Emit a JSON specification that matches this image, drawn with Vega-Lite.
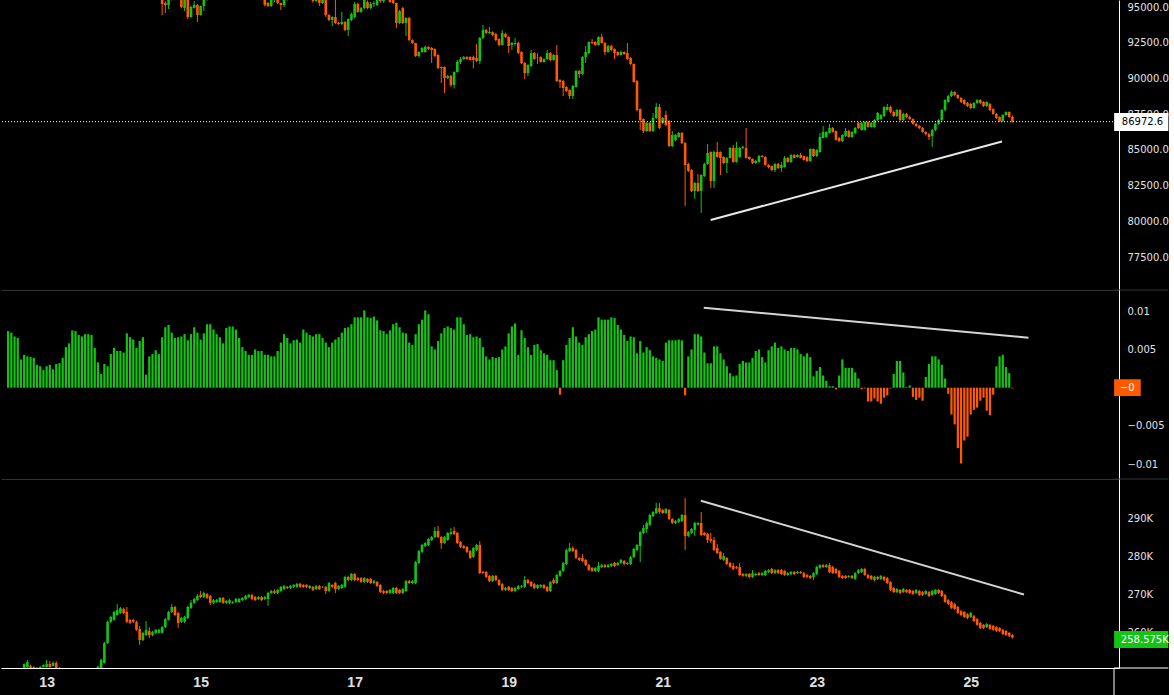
{
"$schema":"https://vega.github.io/schema/vega-lite/v6.json",
"background":"#000000",
"padding":0,
"spacing":0,
"bounds":"flush",
"config":{"view":{"stroke":null},"axis":{"labelFont":"DejaVu Sans","labelFontSize":10,"labelColor":"#e2e2e2","domainColor":"#ffffff","domainWidth":1,"ticks":false,"grid":false,"labelPadding":8}},
"datasets":{"bars":[
{"t":-12,"o":103300,"h":103450,"l":102900,"c":103050,"m":0.0074,"vo":250.2,"vh":250.6,"vl":250.0,"vc":250.4},
{"t":-11,"o":103050,"h":103200,"l":102650,"c":102800,"m":0.0072,"vo":250.4,"vh":250.5,"vl":249.9,"vc":250.1},
{"t":-10,"o":102800,"h":103100,"l":102650,"c":102950,"m":0.0067,"vo":250.1,"vh":250.4,"vl":249.9,"vc":250.3},
{"t":-9,"o":102950,"h":103100,"l":102450,"c":102600,"m":0.0065,"vo":250.3,"vh":250.6,"vl":250.1,"vc":250.5},
{"t":-8,"o":102600,"h":102750,"l":102150,"c":102300,"m":0.0037,"vo":250.5,"vh":250.6,"vl":250.1,"vc":250.3},
{"t":-7,"o":102300,"h":102600,"l":102150,"c":102450,"m":0.0043,"vo":250.6,"vh":251.8,"vl":250.4,"vc":251.6},
{"t":-6,"o":102450,"h":102600,"l":101950,"c":102100,"m":0.0041,"vo":250.8,"vh":252.7,"vl":250.6,"vc":252.1},
{"t":-5,"o":102100,"h":102250,"l":101650,"c":101800,"m":0.0040,"vo":251.1,"vh":251.4,"vl":250.4,"vc":250.6},
{"t":-4,"o":101800,"h":102100,"l":101650,"c":101950,"m":0.0039,"vo":250.8,"vh":251.0,"vl":250.4,"vc":250.6},
{"t":-3,"o":101950,"h":102100,"l":101450,"c":101600,"m":0.0030,"vo":250.6,"vh":250.8,"vl":250.3,"vc":250.5},
{"t":-2,"o":101600,"h":101750,"l":101150,"c":101300,"m":0.0028,"vo":250.5,"vh":251.1,"vl":250.4,"vc":250.8},
{"t":-1,"o":101300,"h":101650,"l":101150,"c":101500,"m":0.0023,"vo":250.8,"vh":251.5,"vl":250.7,"vc":251.3},
{"t":0,"o":101500,"h":101650,"l":100950,"c":101100,"m":0.0028,"vo":250.8,"vh":252.7,"vl":250.7,"vc":251.6},
{"t":1,"o":101100,"h":101250,"l":100550,"c":100700,"m":0.0030,"vo":251.6,"vh":252.4,"vl":250.6,"vc":250.8},
{"t":2,"o":100700,"h":101050,"l":100550,"c":100900,"m":0.0024,"vo":251.1,"vh":252.3,"vl":251.0,"vc":251.9},
{"t":3,"o":100900,"h":101050,"l":100250,"c":100400,"m":0.0031,"vo":251.9,"vh":252.4,"vl":250.4,"vc":250.6},
{"t":4,"o":100400,"h":100550,"l":99850,"c":100000,"m":0.0032,"vo":250.6,"vh":250.8,"vl":250.0,"vc":250.2},
{"t":5,"o":100000,"h":100150,"l":99550,"c":99700,"m":0.0039,"vo":250.2,"vh":250.4,"vl":249.7,"vc":249.9},
{"t":6,"o":99700,"h":100050,"l":99550,"c":99900,"m":0.0053,"vo":249.9,"vh":250.0,"vl":249.4,"vc":249.6},
{"t":7,"o":99900,"h":100050,"l":99250,"c":99400,"m":0.0058,"vo":249.6,"vh":250.0,"vl":249.5,"vc":249.8},
{"t":8,"o":99400,"h":99550,"l":98850,"c":99000,"m":0.0075,"vo":249.8,"vh":249.9,"vl":249.3,"vc":249.5},
{"t":9,"o":99000,"h":99150,"l":98550,"c":98700,"m":0.0074,"vo":249.5,"vh":249.9,"vl":249.4,"vc":249.7},
{"t":10,"o":98700,"h":99050,"l":98550,"c":98900,"m":0.0069,"vo":249.7,"vh":250.1,"vl":249.6,"vc":249.9},
{"t":11,"o":98900,"h":99050,"l":98350,"c":98500,"m":0.0067,"vo":249.9,"vh":250.1,"vl":249.6,"vc":249.8},
{"t":12,"o":98500,"h":98650,"l":98050,"c":98200,"m":0.0070,"vo":249.8,"vh":250.2,"vl":249.7,"vc":250.0},
{"t":13,"o":98200,"h":98550,"l":98050,"c":98400,"m":0.0070,"vo":250.0,"vh":250.4,"vl":249.9,"vc":250.2},
{"t":14,"o":98400,"h":98550,"l":97850,"c":98000,"m":0.0069,"vo":250.2,"vh":250.3,"vl":249.9,"vc":250.1},
{"t":15,"o":98000,"h":98150,"l":97550,"c":97700,"m":0.0052,"vo":250.1,"vh":250.5,"vl":250.0,"vc":250.3},
{"t":16,"o":97700,"h":98050,"l":97550,"c":97900,"m":0.0033,"vo":250.4,"vh":251.1,"vl":250.3,"vc":250.9},
{"t":17,"o":97900,"h":98050,"l":97350,"c":97500,"m":0.0018,"vo":250.6,"vh":253.0,"vl":250.5,"vc":252.7},
{"t":18,"o":97500,"h":97650,"l":97050,"c":97200,"m":0.0031,"vo":251.9,"vh":257.4,"vl":251.7,"vc":257.1},
{"t":19,"o":97200,"h":97550,"l":97050,"c":97400,"m":0.0028,"vo":257.1,"vh":263.0,"vl":256.9,"vc":262.7},
{"t":20,"o":97400,"h":97550,"l":96850,"c":97000,"m":0.0044,"vo":262.7,"vh":264.3,"vl":262.4,"vc":264.0},
{"t":21,"o":97000,"h":97150,"l":96650,"c":96800,"m":0.0052,"vo":263.2,"vh":265.6,"vl":263.0,"vc":265.3},
{"t":22,"o":96800,"h":97150,"l":96650,"c":97000,"m":0.0048,"vo":264.5,"vh":267.4,"vl":264.3,"vc":265.8},
{"t":23,"o":97000,"h":97150,"l":96550,"c":96700,"m":0.0048,"vo":265.0,"vh":266.6,"vl":264.8,"vc":266.3},
{"t":24,"o":96700,"h":96850,"l":96350,"c":96500,"m":0.0046,"vo":266.1,"vh":266.4,"vl":264.7,"vc":265.0},
{"t":25,"o":96500,"h":96850,"l":96350,"c":96700,"m":0.0071,"vo":265.3,"vh":266.6,"vl":262.4,"vc":262.7},
{"t":26,"o":96700,"h":96850,"l":96250,"c":96400,"m":0.0066,"vo":263.2,"vh":263.4,"vl":262.1,"vc":262.4},
{"t":27,"o":96400,"h":96550,"l":96050,"c":96200,"m":0.0063,"vo":263.2,"vh":263.5,"vl":262.4,"vc":262.7},
{"t":28,"o":96200,"h":96550,"l":96050,"c":96400,"m":0.0052,"vo":262.7,"vh":263.0,"vl":260.3,"vc":260.6},
{"t":29,"o":96400,"h":96550,"l":95950,"c":96100,"m":0.0061,"vo":260.8,"vh":261.6,"vl":256.6,"vc":257.9},
{"t":30,"o":96100,"h":96250,"l":95750,"c":95900,"m":0.0066,"vo":257.9,"vh":260.0,"vl":257.6,"vc":259.8},
{"t":31,"o":95900,"h":96250,"l":95750,"c":96100,"m":0.0017,"vo":259.2,"vh":262.9,"vl":259.0,"vc":260.6},
{"t":32,"o":96100,"h":96250,"l":95650,"c":95800,"m":0.0041,"vo":260.3,"vh":261.3,"vl":258.4,"vc":259.2},
{"t":33,"o":95800,"h":96100,"l":95650,"c":95950,"m":0.0044,"vo":259.2,"vh":260.3,"vl":258.9,"vc":260.0},
{"t":34,"o":95950,"h":96100,"l":95550,"c":95700,"m":0.0049,"vo":259.8,"vh":260.8,"vl":259.5,"vc":260.6},
{"t":35,"o":95700,"h":95850,"l":95500,"c":95600,"m":0.0044,"vo":259.8,"vh":260.9,"vl":259.6,"vc":260.6},
{"t":36,"o":95600,"h":95700,"l":94440,"c":95210,"m":0.0066,"vo":259.8,"vh":261.6,"vl":259.6,"vc":261.3},
{"t":37,"o":95280,"h":95400,"l":94580,"c":95140,"m":0.0079,"vo":261.3,"vh":263.7,"vl":261.1,"vc":263.4},
{"t":38,"o":95140,"h":95700,"l":94860,"c":95550,"m":0.0082,"vo":263.2,"vh":265.6,"vl":263.0,"vc":265.3},
{"t":39,"o":95550,"h":96100,"l":95450,"c":95900,"m":0.0072,"vo":265.3,"vh":267.4,"vl":265.0,"vc":266.6},
{"t":40,"o":95900,"h":96300,"l":95700,"c":96100,"m":0.0065,"vo":266.6,"vh":266.9,"vl":264.2,"vc":264.5},
{"t":41,"o":96100,"h":96200,"l":95500,"c":95700,"m":0.0066,"vo":265.0,"vh":265.3,"vl":261.1,"vc":262.4},
{"t":42,"o":95700,"h":95800,"l":94900,"c":95000,"m":0.0067,"vo":262.7,"vh":264.0,"vl":262.4,"vc":263.7},
{"t":43,"o":94930,"h":95600,"l":94720,"c":95500,"m":0.0070,"vo":262.7,"vh":264.3,"vl":262.4,"vc":264.0},
{"t":44,"o":95500,"h":95600,"l":94160,"c":94300,"m":0.0062,"vo":263.7,"vh":266.9,"vl":263.4,"vc":266.6},
{"t":45,"o":94300,"h":95100,"l":94250,"c":95000,"m":0.0070,"vo":266.3,"vh":268.4,"vl":266.1,"vc":267.7},
{"t":46,"o":94930,"h":95420,"l":94900,"c":95140,"m":0.0079,"vo":267.7,"vh":269.0,"vl":267.4,"vc":268.7},
{"t":47,"o":95140,"h":95200,"l":93950,"c":94440,"m":0.0072,"vo":268.4,"vh":270.0,"vl":268.2,"vc":269.5},
{"t":48,"o":94440,"h":95100,"l":94400,"c":95070,"m":0.0063,"vo":269.8,"vh":270.8,"vl":268.9,"vc":269.2},
{"t":49,"o":95070,"h":95800,"l":94720,"c":95600,"m":0.0071,"vo":269.2,"vh":270.6,"vl":269.0,"vc":270.3},
{"t":50,"o":95600,"h":96000,"l":95450,"c":95800,"m":0.0083,"vo":270.0,"vh":270.3,"vl":268.7,"vc":269.0},
{"t":51,"o":95800,"h":96300,"l":95700,"c":96200,"m":0.0083,"vo":269.5,"vh":269.8,"vl":267.1,"vc":267.7},
{"t":52,"o":96200,"h":96550,"l":96050,"c":96400,"m":0.0076,"vo":267.7,"vh":268.7,"vl":267.4,"vc":268.4},
{"t":53,"o":96400,"h":96550,"l":96150,"c":96300,"m":0.0070,"vo":267.9,"vh":268.7,"vl":267.7,"vc":268.4},
{"t":54,"o":96300,"h":96650,"l":96150,"c":96500,"m":0.0066,"vo":267.9,"vh":269.2,"vl":267.7,"vc":269.0},
{"t":55,"o":96500,"h":96650,"l":96250,"c":96400,"m":0.0058,"vo":269.0,"vh":269.2,"vl":267.4,"vc":267.7},
{"t":56,"o":96400,"h":96550,"l":96050,"c":96200,"m":0.0078,"vo":267.7,"vh":268.4,"vl":267.4,"vc":268.2},
{"t":57,"o":96200,"h":96450,"l":96050,"c":96300,"m":0.0080,"vo":267.7,"vh":268.7,"vl":267.4,"vc":268.4},
{"t":58,"o":96300,"h":96450,"l":95950,"c":96100,"m":0.0080,"vo":267.7,"vh":268.2,"vl":267.4,"vc":267.9},
{"t":59,"o":96100,"h":96450,"l":95950,"c":96300,"m":0.0076,"vo":267.9,"vh":269.0,"vl":267.7,"vc":268.7},
{"t":60,"o":96300,"h":96650,"l":96150,"c":96500,"m":0.0065,"vo":267.9,"vh":269.0,"vl":267.7,"vc":268.7},
{"t":61,"o":96500,"h":96650,"l":96250,"c":96400,"m":0.0053,"vo":268.4,"vh":269.2,"vl":268.2,"vc":269.0},
{"t":62,"o":96400,"h":96550,"l":96050,"c":96200,"m":0.0048,"vo":268.7,"vh":269.8,"vl":268.4,"vc":269.5},
{"t":63,"o":96200,"h":96350,"l":95850,"c":96000,"m":0.0043,"vo":269.2,"vh":270.0,"vl":269.0,"vc":269.8},
{"t":64,"o":96000,"h":96250,"l":95850,"c":96100,"m":0.0043,"vo":269.8,"vh":270.0,"vl":268.4,"vc":268.7},
{"t":65,"o":96100,"h":96250,"l":95750,"c":95900,"m":0.0050,"vo":269.2,"vh":269.5,"vl":268.2,"vc":268.4},
{"t":66,"o":95900,"h":96050,"l":95650,"c":95800,"m":0.0048,"vo":268.7,"vh":269.5,"vl":268.4,"vc":269.2},
{"t":67,"o":95800,"h":95950,"l":95550,"c":95650,"m":0.0048,"vo":269.2,"vh":269.5,"vl":268.2,"vc":268.4},
{"t":68,"o":95650,"h":95800,"l":95050,"c":95140,"m":0.0043,"vo":268.7,"vh":269.5,"vl":268.4,"vc":269.2},
{"t":69,"o":95280,"h":95350,"l":95000,"c":95070,"m":0.0043,"vo":268.7,"vh":270.6,"vl":266.9,"vc":270.3},
{"t":70,"o":95070,"h":95650,"l":95000,"c":95500,"m":0.0041,"vo":270.3,"vh":271.1,"vl":270.0,"vc":270.8},
{"t":71,"o":95500,"h":95750,"l":95350,"c":95600,"m":0.0041,"vo":270.8,"vh":271.3,"vl":270.0,"vc":270.3},
{"t":72,"o":95600,"h":95700,"l":95200,"c":95280,"m":0.0048,"vo":270.3,"vh":271.3,"vl":270.0,"vc":271.1},
{"t":73,"o":95280,"h":95300,"l":94790,"c":95140,"m":0.0059,"vo":270.8,"vh":272.1,"vl":270.5,"vc":271.9},
{"t":74,"o":95140,"h":95700,"l":95000,"c":95550,"m":0.0070,"vo":271.3,"vh":272.4,"vl":271.1,"vc":272.1},
{"t":75,"o":95550,"h":95950,"l":95450,"c":95800,"m":0.0065,"vo":271.9,"vh":272.1,"vl":271.3,"vc":271.6},
{"t":76,"o":95800,"h":96150,"l":95700,"c":96000,"m":0.0058,"vo":271.6,"vh":272.4,"vl":271.3,"vc":272.1},
{"t":77,"o":96000,"h":96350,"l":95900,"c":96200,"m":0.0062,"vo":271.9,"vh":272.6,"vl":271.6,"vc":272.4},
{"t":78,"o":96200,"h":96300,"l":96000,"c":96100,"m":0.0063,"vo":271.9,"vh":272.9,"vl":271.6,"vc":272.7},
{"t":79,"o":96100,"h":96450,"l":96000,"c":96300,"m":0.0059,"vo":272.7,"vh":272.9,"vl":271.6,"vc":271.9},
{"t":80,"o":96300,"h":96400,"l":96050,"c":96200,"m":0.0076,"vo":272.4,"vh":272.6,"vl":271.6,"vc":271.9},
{"t":81,"o":96200,"h":96300,"l":95900,"c":96000,"m":0.0072,"vo":272.4,"vh":272.6,"vl":271.6,"vc":271.9},
{"t":82,"o":96000,"h":96100,"l":95600,"c":95700,"m":0.0069,"vo":271.6,"vh":272.4,"vl":271.3,"vc":272.1},
{"t":83,"o":95700,"h":95800,"l":95300,"c":95420,"m":0.0067,"vo":271.9,"vh":272.1,"vl":270.8,"vc":271.1},
{"t":84,"o":95420,"h":95700,"l":95350,"c":95600,"m":0.0070,"vo":271.3,"vh":272.4,"vl":271.1,"vc":272.1},
{"t":85,"o":95550,"h":95600,"l":95070,"c":95280,"m":0.0070,"vo":272.1,"vh":272.4,"vl":271.1,"vc":271.3},
{"t":86,"o":95280,"h":95600,"l":95200,"c":95500,"m":0.0065,"vo":271.8,"vh":272.1,"vl":271.6,"vc":271.9},
{"t":87,"o":95500,"h":95650,"l":94300,"c":94440,"m":0.0059,"vo":271.9,"vh":272.1,"vl":270.0,"vc":270.8},
{"t":88,"o":94440,"h":94500,"l":94000,"c":94090,"m":0.0053,"vo":270.8,"vh":273.2,"vl":270.5,"vc":272.9},
{"t":89,"o":94090,"h":94350,"l":93670,"c":94300,"m":0.0059,"vo":272.4,"vh":272.6,"vl":271.6,"vc":271.9},
{"t":90,"o":94300,"h":95490,"l":93800,"c":93880,"m":0.0063,"vo":272.9,"vh":273.2,"vl":270.3,"vc":271.3},
{"t":91,"o":93880,"h":93950,"l":93750,"c":93810,"m":0.0066,"vo":271.3,"vh":272.4,"vl":271.1,"vc":272.1},
{"t":92,"o":93810,"h":94650,"l":93740,"c":93950,"m":0.0072,"vo":271.6,"vh":272.7,"vl":271.3,"vc":272.4},
{"t":93,"o":93950,"h":94000,"l":93300,"c":93390,"m":0.0078,"vo":271.9,"vh":274.8,"vl":271.6,"vc":274.5},
{"t":94,"o":93390,"h":94200,"l":92970,"c":94160,"m":0.0079,"vo":274.5,"vh":274.8,"vl":273.4,"vc":273.7},
{"t":95,"o":94090,"h":94600,"l":94000,"c":94510,"m":0.0083,"vo":273.7,"vh":275.5,"vl":273.4,"vc":275.3},
{"t":96,"o":94300,"h":95350,"l":94200,"c":95210,"m":0.0092,"vo":275.3,"vh":275.5,"vl":273.4,"vc":273.7},
{"t":97,"o":95210,"h":95300,"l":94600,"c":94650,"m":0.0092,"vo":274.2,"vh":274.5,"vl":273.4,"vc":273.7},
{"t":98,"o":94650,"h":95000,"l":94600,"c":94930,"m":0.0092,"vo":274.2,"vh":274.5,"vl":272.9,"vc":273.2},
{"t":99,"o":94930,"h":95700,"l":94850,"c":95490,"m":0.0101,"vo":273.2,"vh":274.5,"vl":272.9,"vc":274.2},
{"t":100,"o":95350,"h":95450,"l":94850,"c":94930,"m":0.0092,"vo":274.0,"vh":274.2,"vl":272.9,"vc":273.2},
{"t":101,"o":94930,"h":95350,"l":94850,"c":95210,"m":0.0091,"vo":274.0,"vh":274.2,"vl":272.6,"vc":272.9},
{"t":102,"o":95210,"h":95400,"l":95000,"c":95280,"m":0.0093,"vo":272.9,"vh":273.7,"vl":272.6,"vc":273.4},
{"t":103,"o":95140,"h":95700,"l":95070,"c":95500,"m":0.0088,"vo":273.2,"vh":273.4,"vl":271.9,"vc":272.1},
{"t":104,"o":95500,"h":95650,"l":95300,"c":95400,"m":0.0075,"vo":272.4,"vh":272.6,"vl":270.3,"vc":270.5},
{"t":105,"o":95400,"h":95800,"l":95300,"c":95600,"m":0.0074,"vo":270.8,"vh":271.1,"vl":270.0,"vc":270.3},
{"t":106,"o":95600,"h":96000,"l":95500,"c":95800,"m":0.0070,"vo":270.8,"vh":271.1,"vl":270.0,"vc":270.3},
{"t":107,"o":95800,"h":95900,"l":95300,"c":95350,"m":0.0075,"vo":270.3,"vh":271.3,"vl":270.0,"vc":271.1},
{"t":108,"o":95490,"h":95600,"l":95200,"c":95280,"m":0.0083,"vo":270.3,"vh":271.9,"vl":270.0,"vc":271.6},
{"t":109,"o":95280,"h":95300,"l":93530,"c":93880,"m":0.0085,"vo":271.6,"vh":271.9,"vl":270.0,"vc":270.3},
{"t":110,"o":93880,"h":94800,"l":93800,"c":94720,"m":0.0079,"vo":271.1,"vh":271.3,"vl":270.0,"vc":270.3},
{"t":111,"o":94930,"h":95000,"l":93800,"c":93880,"m":0.0072,"vo":270.3,"vh":271.6,"vl":270.0,"vc":271.3},
{"t":112,"o":93880,"h":94300,"l":92970,"c":94230,"m":0.0071,"vo":270.8,"vh":273.7,"vl":270.5,"vc":273.4},
{"t":113,"o":94230,"h":94300,"l":92600,"c":92690,"m":0.0059,"vo":273.4,"vh":273.7,"vl":272.6,"vc":272.9},
{"t":114,"o":92690,"h":92750,"l":92400,"c":92480,"m":0.0056,"vo":272.9,"vh":273.7,"vl":272.6,"vc":273.4},
{"t":115,"o":92480,"h":92500,"l":91500,"c":91570,"m":0.0070,"vo":272.9,"vh":278.7,"vl":272.6,"vc":278.4},
{"t":116,"o":91570,"h":91900,"l":91500,"c":91850,"m":0.0083,"vo":278.2,"vh":281.6,"vl":277.9,"vc":281.3},
{"t":117,"o":91850,"h":92200,"l":91800,"c":92130,"m":0.0089,"vo":281.1,"vh":283.2,"vl":280.8,"vc":282.9},
{"t":118,"o":91850,"h":92300,"l":91800,"c":92200,"m":0.0101,"vo":282.6,"vh":283.7,"vl":282.4,"vc":283.4},
{"t":119,"o":92200,"h":92250,"l":92000,"c":92060,"m":0.0096,"vo":282.9,"vh":284.7,"vl":282.6,"vc":284.5},
{"t":120,"o":92130,"h":92200,"l":91080,"c":91990,"m":0.0054,"vo":284.2,"vh":285.3,"vl":284.0,"vc":285.0},
{"t":121,"o":92060,"h":92100,"l":91500,"c":91570,"m":0.0050,"vo":285.0,"vh":287.6,"vl":284.7,"vc":286.6},
{"t":122,"o":91640,"h":91700,"l":90650,"c":90730,"m":0.0061,"vo":286.6,"vh":287.9,"vl":284.7,"vc":285.0},
{"t":123,"o":90800,"h":90850,"l":89680,"c":90730,"m":0.0071,"vo":285.0,"vh":285.3,"vl":281.9,"vc":283.4},
{"t":124,"o":90800,"h":90850,"l":88980,"c":90030,"m":0.0078,"vo":283.4,"vh":285.3,"vl":283.2,"vc":285.0},
{"t":125,"o":90030,"h":90250,"l":89950,"c":90170,"m":0.0080,"vo":284.2,"vh":286.3,"vl":284.0,"vc":286.1},
{"t":126,"o":90170,"h":90250,"l":89400,"c":89540,"m":0.0078,"vo":285.8,"vh":287.4,"vl":285.5,"vc":286.3},
{"t":127,"o":89540,"h":90500,"l":89300,"c":90450,"m":0.0076,"vo":286.6,"vh":287.6,"vl":285.5,"vc":285.8},
{"t":128,"o":90450,"h":91300,"l":90400,"c":91150,"m":0.0092,"vo":286.1,"vh":286.3,"vl":283.2,"vc":283.4},
{"t":129,"o":91150,"h":91500,"l":91000,"c":91360,"m":0.0092,"vo":283.7,"vh":283.9,"vl":282.1,"vc":282.4},
{"t":130,"o":91360,"h":91560,"l":91300,"c":91500,"m":0.0083,"vo":282.6,"vh":282.9,"vl":281.9,"vc":282.1},
{"t":131,"o":91500,"h":91560,"l":91300,"c":91360,"m":0.0069,"vo":282.4,"vh":282.6,"vl":280.8,"vc":281.1},
{"t":132,"o":91500,"h":91560,"l":91250,"c":91290,"m":0.0070,"vo":281.3,"vh":281.6,"vl":279.2,"vc":279.5},
{"t":133,"o":91500,"h":91600,"l":90700,"c":91290,"m":0.0066,"vo":279.8,"vh":282.4,"vl":279.5,"vc":282.1},
{"t":134,"o":91430,"h":92410,"l":91150,"c":91220,"m":0.0067,"vo":281.6,"vh":283.2,"vl":281.3,"vc":282.9},
{"t":135,"o":91220,"h":92900,"l":91000,"c":92830,"m":0.0065,"vo":282.9,"vh":283.9,"vl":275.3,"vc":275.5},
{"t":136,"o":92830,"h":93740,"l":92750,"c":93390,"m":0.0053,"vo":275.8,"vh":276.1,"vl":275.3,"vc":275.5},
{"t":137,"o":93390,"h":93450,"l":93100,"c":93180,"m":0.0041,"vo":275.8,"vh":276.1,"vl":274.2,"vc":274.5},
{"t":138,"o":93180,"h":93600,"l":93100,"c":93250,"m":0.0037,"vo":274.8,"vh":275.0,"vl":273.2,"vc":273.4},
{"t":139,"o":93250,"h":93300,"l":92950,"c":93040,"m":0.0040,"vo":273.4,"vh":275.0,"vl":273.2,"vc":274.8},
{"t":140,"o":93110,"h":93200,"l":92600,"c":92690,"m":0.0039,"vo":274.8,"vh":275.0,"vl":273.4,"vc":273.7},
{"t":141,"o":92760,"h":92800,"l":92250,"c":92340,"m":0.0040,"vo":273.7,"vh":273.9,"vl":272.1,"vc":272.4},
{"t":142,"o":92340,"h":93390,"l":92300,"c":93180,"m":0.0050,"vo":272.6,"vh":272.9,"vl":270.8,"vc":271.1},
{"t":143,"o":93110,"h":93200,"l":92850,"c":92900,"m":0.0054,"vo":271.1,"vh":271.9,"vl":270.8,"vc":271.6},
{"t":144,"o":92900,"h":92950,"l":91780,"c":92270,"m":0.0071,"vo":271.9,"vh":272.1,"vl":270.8,"vc":271.1},
{"t":145,"o":92340,"h":92550,"l":92000,"c":92480,"m":0.0080,"vo":271.6,"vh":271.9,"vl":270.5,"vc":270.8},
{"t":146,"o":92410,"h":92830,"l":92300,"c":92480,"m":0.0084,"vo":270.8,"vh":271.9,"vl":270.5,"vc":271.6},
{"t":147,"o":92480,"h":92550,"l":91700,"c":91780,"m":0.0043,"vo":271.3,"vh":272.4,"vl":271.1,"vc":272.1},
{"t":148,"o":91850,"h":91900,"l":91000,"c":91080,"m":0.0075,"vo":271.9,"vh":272.4,"vl":271.6,"vc":272.1},
{"t":149,"o":91080,"h":91150,"l":89960,"c":90380,"m":0.0065,"vo":271.9,"vh":274.7,"vl":271.6,"vc":273.7},
{"t":150,"o":90380,"h":91000,"l":90170,"c":90940,"m":0.0053,"vo":273.7,"vh":274.0,"vl":272.6,"vc":272.9},
{"t":151,"o":90870,"h":91990,"l":90800,"c":91780,"m":0.0043,"vo":273.2,"vh":273.4,"vl":271.9,"vc":272.1},
{"t":152,"o":91780,"h":91850,"l":91300,"c":91360,"m":0.0056,"vo":272.6,"vh":272.9,"vl":271.3,"vc":271.6},
{"t":153,"o":91430,"h":91780,"l":91010,"c":91460,"m":0.0057,"vo":271.6,"vh":272.6,"vl":271.3,"vc":272.4},
{"t":154,"o":91500,"h":91550,"l":91100,"c":91150,"m":0.0049,"vo":271.9,"vh":272.6,"vl":271.6,"vc":272.4},
{"t":155,"o":91150,"h":91400,"l":91100,"c":91360,"m":0.0045,"vo":272.4,"vh":272.6,"vl":271.3,"vc":271.6},
{"t":156,"o":91360,"h":91990,"l":91300,"c":91780,"m":0.0043,"vo":271.9,"vh":272.1,"vl":270.5,"vc":270.8},
{"t":157,"o":91780,"h":91850,"l":91200,"c":91290,"m":0.0036,"vo":270.8,"vh":273.4,"vl":270.5,"vc":273.2},
{"t":158,"o":91290,"h":91700,"l":91250,"c":91640,"m":0.0036,"vo":273.7,"vh":274.2,"vl":272.6,"vc":272.9},
{"t":159,"o":91640,"h":92340,"l":89750,"c":89820,"m":0.0023,"vo":272.9,"vh":275.3,"vl":272.6,"vc":275.0},
{"t":160,"o":89890,"h":89950,"l":89330,"c":89750,"m":-0.0009,"vo":274.8,"vh":276.3,"vl":274.5,"vc":276.1},
{"t":161,"o":89820,"h":89900,"l":88770,"c":89330,"m":0.0036,"vo":276.1,"vh":278.4,"vl":275.8,"vc":278.2},
{"t":162,"o":89400,"h":89450,"l":89050,"c":89120,"m":0.0056,"vo":277.9,"vh":281.9,"vl":277.6,"vc":281.6},
{"t":163,"o":89190,"h":89250,"l":88560,"c":88770,"m":0.0065,"vo":281.3,"vh":283.4,"vl":281.1,"vc":282.1},
{"t":164,"o":88770,"h":89550,"l":88560,"c":89470,"m":0.0079,"vo":282.1,"vh":282.6,"vl":281.1,"vc":281.3},
{"t":165,"o":89400,"h":90600,"l":89350,"c":90520,"m":0.0067,"vo":281.6,"vh":281.9,"vl":279.2,"vc":279.5},
{"t":166,"o":90520,"h":90600,"l":90030,"c":90310,"m":0.0059,"vo":279.5,"vh":279.7,"vl":278.7,"vc":279.0},
{"t":167,"o":90310,"h":91560,"l":90250,"c":91500,"m":0.0056,"vo":279.5,"vh":280.5,"vl":278.4,"vc":278.7},
{"t":168,"o":91500,"h":92270,"l":91080,"c":91850,"m":0.0066,"vo":279.0,"vh":279.2,"vl":277.4,"vc":277.6},
{"t":169,"o":91780,"h":92600,"l":91700,"c":92550,"m":0.0070,"vo":277.6,"vh":277.9,"vl":276.1,"vc":276.3},
{"t":170,"o":92550,"h":92760,"l":92400,"c":92480,"m":0.0074,"vo":276.9,"vh":277.1,"vl":275.8,"vc":276.1},
{"t":171,"o":92550,"h":92600,"l":92300,"c":92340,"m":0.0076,"vo":276.1,"vh":277.1,"vl":275.8,"vc":276.9},
{"t":172,"o":92340,"h":92950,"l":92300,"c":92900,"m":0.0092,"vo":276.1,"vh":278.4,"vl":275.8,"vc":277.4},
{"t":173,"o":92900,"h":93110,"l":92450,"c":92480,"m":0.0089,"vo":277.1,"vh":277.9,"vl":276.9,"vc":277.6},
{"t":174,"o":92480,"h":92550,"l":91640,"c":91850,"m":0.0089,"vo":277.6,"vh":277.9,"vl":276.9,"vc":277.1},
{"t":175,"o":91850,"h":92350,"l":91800,"c":92270,"m":0.0089,"vo":277.1,"vh":277.9,"vl":276.9,"vc":277.6},
{"t":176,"o":92270,"h":92350,"l":91900,"c":91990,"m":0.0092,"vo":277.4,"vh":278.2,"vl":277.1,"vc":277.9},
{"t":177,"o":92060,"h":92100,"l":91360,"c":91780,"m":0.0091,"vo":278.2,"vh":278.4,"vl":277.1,"vc":277.4},
{"t":178,"o":91850,"h":91900,"l":91550,"c":91640,"m":0.0082,"vo":277.6,"vh":278.4,"vl":277.4,"vc":278.2},
{"t":179,"o":91640,"h":91950,"l":91600,"c":91850,"m":0.0076,"vo":278.2,"vh":279.2,"vl":277.9,"vc":279.0},
{"t":180,"o":91850,"h":91900,"l":91650,"c":91710,"m":0.0069,"vo":278.7,"vh":279.0,"vl":277.6,"vc":277.9},
{"t":181,"o":91780,"h":92480,"l":91300,"c":91360,"m":0.0061,"vo":277.9,"vh":278.4,"vl":277.6,"vc":278.2},
{"t":182,"o":91430,"h":91500,"l":90950,"c":91010,"m":0.0067,"vo":277.9,"vh":280.0,"vl":277.6,"vc":279.7},
{"t":183,"o":91010,"h":91050,"l":89700,"c":89750,"m":0.0066,"vo":279.7,"vh":282.1,"vl":279.5,"vc":281.9},
{"t":184,"o":89820,"h":89900,"l":87700,"c":87790,"m":0.0045,"vo":281.6,"vh":283.2,"vl":281.3,"vc":282.9},
{"t":185,"o":87860,"h":87900,"l":86390,"c":87090,"m":0.0061,"vo":282.6,"vh":286.6,"vl":278.4,"vc":286.3},
{"t":186,"o":87160,"h":87200,"l":86180,"c":86320,"m":0.0046,"vo":286.1,"vh":288.2,"vl":285.8,"vc":287.4},
{"t":187,"o":86320,"h":86950,"l":86250,"c":86880,"m":0.0053,"vo":287.1,"vh":289.0,"vl":286.1,"vc":288.7},
{"t":188,"o":86880,"h":86950,"l":86250,"c":86320,"m":0.0049,"vo":288.2,"vh":291.1,"vl":287.9,"vc":290.8},
{"t":189,"o":86320,"h":87580,"l":86250,"c":87230,"m":0.0041,"vo":290.5,"vh":291.8,"vl":290.3,"vc":291.6},
{"t":190,"o":87230,"h":88280,"l":87150,"c":88000,"m":0.0039,"vo":291.3,"vh":294.0,"vl":291.1,"vc":292.6},
{"t":191,"o":88000,"h":88210,"l":86450,"c":86530,"m":0.0037,"vo":292.6,"vh":294.0,"vl":291.1,"vc":291.6},
{"t":192,"o":86880,"h":87300,"l":86800,"c":87230,"m":0.0035,"vo":292.1,"vh":292.4,"vl":291.1,"vc":291.3},
{"t":193,"o":87440,"h":87720,"l":86650,"c":86740,"m":0.0059,"vo":291.3,"vh":292.6,"vl":291.1,"vc":292.4},
{"t":194,"o":87020,"h":87100,"l":85200,"c":85270,"m":0.0062,"vo":292.1,"vh":292.4,"vl":289.5,"vc":289.7},
{"t":195,"o":85270,"h":86320,"l":85200,"c":86040,"m":0.0062,"vo":289.7,"vh":290.0,"vl":288.4,"vc":288.7},
{"t":196,"o":85690,"h":86100,"l":85600,"c":86040,"m":0.0062,"vo":288.7,"vh":289.5,"vl":288.4,"vc":289.2},
{"t":197,"o":85900,"h":86250,"l":85850,"c":86180,"m":0.0063,"vo":289.0,"vh":290.0,"vl":288.7,"vc":289.7},
{"t":198,"o":86180,"h":86250,"l":85400,"c":85480,"m":0.0062,"vo":289.2,"vh":291.1,"vl":288.9,"vc":290.8},
{"t":199,"o":85480,"h":85550,"l":81070,"c":83940,"m":-0.0010,"vo":290.8,"vh":295.3,"vl":281.6,"vc":285.3},
{"t":200,"o":84010,"h":84100,"l":83450,"c":83520,"m":0.0041,"vo":285.3,"vh":286.6,"vl":285.0,"vc":286.3},
{"t":201,"o":83590,"h":83650,"l":82050,"c":82120,"m":0.0050,"vo":286.1,"vh":287.4,"vl":285.8,"vc":287.1},
{"t":202,"o":82120,"h":82750,"l":81560,"c":82680,"m":0.0070,"vo":286.9,"vh":289.0,"vl":285.3,"vc":288.7},
{"t":203,"o":82680,"h":83310,"l":82050,"c":82120,"m":0.0070,"vo":288.2,"vh":289.0,"vl":288.0,"vc":288.7},
{"t":204,"o":82120,"h":83300,"l":80580,"c":83240,"m":0.0067,"vo":288.7,"vh":291.6,"vl":285.3,"vc":285.5},
{"t":205,"o":83170,"h":84100,"l":83100,"c":84010,"m":0.0046,"vo":286.1,"vh":286.3,"vl":285.3,"vc":285.5},
{"t":206,"o":84010,"h":85410,"l":83950,"c":84780,"m":0.0032,"vo":285.8,"vh":286.1,"vl":283.4,"vc":284.2},
{"t":207,"o":84850,"h":84900,"l":82330,"c":82820,"m":0.0032,"vo":284.5,"vh":286.1,"vl":283.4,"vc":284.0},
{"t":208,"o":82820,"h":84950,"l":82330,"c":84850,"m":0.0054,"vo":284.2,"vh":285.0,"vl":281.3,"vc":281.6},
{"t":209,"o":84850,"h":85550,"l":84450,"c":84500,"m":0.0054,"vo":282.1,"vh":283.2,"vl":280.5,"vc":280.8},
{"t":210,"o":84850,"h":84900,"l":83240,"c":84430,"m":0.0045,"vo":281.1,"vh":281.3,"vl":279.0,"vc":279.2},
{"t":211,"o":84500,"h":84550,"l":84000,"c":84080,"m":0.0037,"vo":279.0,"vh":280.8,"vl":278.7,"vc":280.0},
{"t":212,"o":84080,"h":84500,"l":83380,"c":84430,"m":0.0028,"vo":279.5,"vh":279.7,"vl":277.6,"vc":277.9},
{"t":213,"o":84430,"h":85200,"l":84400,"c":85130,"m":0.0019,"vo":278.2,"vh":278.4,"vl":276.9,"vc":277.1},
{"t":214,"o":85130,"h":85340,"l":84100,"c":84150,"m":0.0015,"vo":277.4,"vh":278.2,"vl":276.3,"vc":276.6},
{"t":215,"o":84150,"h":85550,"l":84100,"c":85130,"m":0.0016,"vo":277.1,"vh":277.4,"vl":276.6,"vc":276.9},
{"t":216,"o":84500,"h":85200,"l":84450,"c":85130,"m":0.0031,"vo":277.1,"vh":278.2,"vl":274.8,"vc":275.0},
{"t":217,"o":85130,"h":85300,"l":85050,"c":85200,"m":0.0035,"vo":275.3,"vh":275.5,"vl":274.5,"vc":274.8},
{"t":218,"o":85130,"h":86530,"l":84400,"c":84430,"m":0.0033,"vo":274.8,"vh":275.5,"vl":274.5,"vc":275.3},
{"t":219,"o":84500,"h":84550,"l":84300,"c":84360,"m":0.0033,"vo":275.3,"vh":275.5,"vl":274.2,"vc":274.5},
{"t":220,"o":84360,"h":84400,"l":84000,"c":84080,"m":0.0039,"vo":274.5,"vh":276.3,"vl":274.2,"vc":275.5},
{"t":221,"o":84080,"h":84300,"l":84000,"c":84220,"m":0.0048,"vo":275.0,"vh":275.5,"vl":274.8,"vc":275.3},
{"t":222,"o":84150,"h":84650,"l":84100,"c":84570,"m":0.0050,"vo":275.5,"vh":275.8,"vl":274.8,"vc":275.0},
{"t":223,"o":84570,"h":84650,"l":84450,"c":84500,"m":0.0040,"vo":275.0,"vh":275.8,"vl":274.8,"vc":275.5},
{"t":224,"o":84500,"h":84550,"l":83900,"c":83940,"m":0.0033,"vo":275.0,"vh":276.3,"vl":274.8,"vc":276.1},
{"t":225,"o":83940,"h":84000,"l":83700,"c":83800,"m":0.0049,"vo":275.8,"vh":276.6,"vl":275.5,"vc":276.3},
{"t":226,"o":83870,"h":83900,"l":83500,"c":83590,"m":0.0054,"vo":276.6,"vh":276.9,"vl":275.3,"vc":275.5},
{"t":227,"o":83590,"h":84100,"l":83450,"c":84010,"m":0.0059,"vo":275.5,"vh":276.6,"vl":275.3,"vc":276.3},
{"t":228,"o":84010,"h":84100,"l":83650,"c":83730,"m":0.0052,"vo":276.3,"vh":276.6,"vl":275.3,"vc":275.5},
{"t":229,"o":83730,"h":84150,"l":83450,"c":83940,"m":0.0054,"vo":276.3,"vh":276.6,"vl":275.0,"vc":275.3},
{"t":230,"o":83800,"h":84570,"l":83750,"c":84430,"m":0.0050,"vo":276.1,"vh":276.3,"vl":274.8,"vc":275.0},
{"t":231,"o":84430,"h":84500,"l":84100,"c":84150,"m":0.0048,"vo":275.0,"vh":275.8,"vl":274.8,"vc":275.5},
{"t":232,"o":84150,"h":84700,"l":84100,"c":84640,"m":0.0052,"vo":275.3,"vh":276.1,"vl":275.0,"vc":275.8},
{"t":233,"o":84640,"h":84700,"l":84400,"c":84430,"m":0.0052,"vo":275.8,"vh":276.1,"vl":275.0,"vc":275.3},
{"t":234,"o":84500,"h":84700,"l":84450,"c":84640,"m":0.0050,"vo":275.5,"vh":276.1,"vl":275.3,"vc":275.8},
{"t":235,"o":84640,"h":84780,"l":84400,"c":84430,"m":0.0044,"vo":275.8,"vh":276.1,"vl":275.3,"vc":275.5},
{"t":236,"o":84570,"h":84600,"l":84250,"c":84290,"m":0.0041,"vo":275.5,"vh":275.8,"vl":274.2,"vc":274.5},
{"t":237,"o":84500,"h":84550,"l":84150,"c":84220,"m":0.0045,"vo":275.0,"vh":275.3,"vl":274.2,"vc":274.5},
{"t":238,"o":84220,"h":85100,"l":84150,"c":85060,"m":0.0040,"vo":274.8,"vh":275.0,"vl":274.0,"vc":274.2},
{"t":239,"o":85060,"h":85100,"l":84500,"c":84570,"m":0.0015,"vo":274.5,"vh":275.8,"vl":273.7,"vc":275.5},
{"t":240,"o":84570,"h":85050,"l":84500,"c":84990,"m":0.0022,"vo":275.3,"vh":277.4,"vl":275.0,"vc":277.1},
{"t":241,"o":84850,"h":86180,"l":84800,"c":85900,"m":0.0027,"vo":276.9,"vh":277.9,"vl":276.6,"vc":277.6},
{"t":242,"o":85830,"h":86670,"l":85800,"c":86250,"m":0.0016,"vo":277.6,"vh":277.9,"vl":276.9,"vc":277.1},
{"t":243,"o":85900,"h":86300,"l":85850,"c":86250,"m":0.0009,"vo":277.1,"vh":277.9,"vl":276.9,"vc":277.6},
{"t":244,"o":86180,"h":86810,"l":86150,"c":86530,"m":0.0002,"vo":277.6,"vh":278.2,"vl":275.5,"vc":275.8},
{"t":245,"o":86530,"h":86600,"l":86200,"c":86250,"m":0.0002,"vo":277.1,"vh":277.4,"vl":275.3,"vc":275.5},
{"t":246,"o":86320,"h":86350,"l":85650,"c":85690,"m":-0.0002,"vo":276.6,"vh":276.9,"vl":275.3,"vc":275.5},
{"t":247,"o":85830,"h":85900,"l":85550,"c":85620,"m":0.0016,"vo":276.1,"vh":276.3,"vl":274.2,"vc":274.5},
{"t":248,"o":85620,"h":86100,"l":85550,"c":86040,"m":0.0037,"vo":274.8,"vh":275.0,"vl":274.0,"vc":274.2},
{"t":249,"o":85970,"h":86530,"l":85900,"c":86320,"m":0.0026,"vo":274.8,"vh":275.0,"vl":274.0,"vc":274.2},
{"t":250,"o":86320,"h":86400,"l":85850,"c":85900,"m":0.0026,"vo":274.5,"vh":275.0,"vl":274.2,"vc":274.8},
{"t":251,"o":85900,"h":86300,"l":85850,"c":86250,"m":0.0026,"vo":274.8,"vh":275.0,"vl":274.0,"vc":274.2},
{"t":252,"o":86180,"h":86600,"l":86100,"c":86530,"m":0.0020,"vo":274.0,"vh":275.8,"vl":273.7,"vc":275.5},
{"t":253,"o":86880,"h":86950,"l":86450,"c":86530,"m":0.0012,"vo":275.5,"vh":276.6,"vl":275.3,"vc":276.3},
{"t":254,"o":86390,"h":86950,"l":86350,"c":86880,"m":-0.0002,"vo":275.8,"vh":276.9,"vl":275.5,"vc":276.6},
{"t":255,"o":86390,"h":87000,"l":86350,"c":86950,"m":-0.0001,"vo":276.6,"vh":276.9,"vl":274.8,"vc":275.0},
{"t":256,"o":86950,"h":87000,"l":86550,"c":86600,"m":-0.0018,"vo":275.0,"vh":275.3,"vl":274.0,"vc":274.2},
{"t":257,"o":86600,"h":86950,"l":86550,"c":86880,"m":-0.0018,"vo":274.8,"vh":275.0,"vl":273.7,"vc":274.0},
{"t":258,"o":86600,"h":87150,"l":86550,"c":87090,"m":-0.0014,"vo":273.7,"vh":274.8,"vl":273.4,"vc":274.5},
{"t":259,"o":87090,"h":87650,"l":87000,"c":87580,"m":-0.0018,"vo":274.5,"vh":274.8,"vl":273.7,"vc":274.0},
{"t":260,"o":87160,"h":87500,"l":87100,"c":87440,"m":-0.0021,"vo":274.0,"vh":275.0,"vl":273.7,"vc":274.8},
{"t":261,"o":87370,"h":88050,"l":87300,"c":88000,"m":-0.0013,"vo":274.5,"vh":274.8,"vl":273.4,"vc":273.7},
{"t":262,"o":87790,"h":88210,"l":87750,"c":88000,"m":-0.0010,"vo":274.2,"vh":274.5,"vl":272.6,"vc":272.9},
{"t":263,"o":88000,"h":88100,"l":87550,"c":87650,"m":-0.0001,"vo":273.2,"vh":273.4,"vl":270.8,"vc":271.1},
{"t":264,"o":87650,"h":87750,"l":87300,"c":87370,"m":0.0018,"vo":271.6,"vh":271.9,"vl":270.3,"vc":270.5},
{"t":265,"o":87370,"h":87850,"l":87300,"c":87790,"m":0.0035,"vo":270.5,"vh":271.6,"vl":270.3,"vc":271.3},
{"t":266,"o":87790,"h":87850,"l":87000,"c":87090,"m":0.0035,"vo":271.1,"vh":271.3,"vl":270.0,"vc":270.3},
{"t":267,"o":87090,"h":87600,"l":87000,"c":87510,"m":0.0020,"vo":270.5,"vh":271.6,"vl":270.3,"vc":271.3},
{"t":268,"o":87510,"h":87600,"l":87200,"c":87300,"m":0.0001,"vo":271.1,"vh":271.3,"vl":270.3,"vc":270.5},
{"t":269,"o":87300,"h":87400,"l":87100,"c":87160,"m":0.0003,"vo":271.1,"vh":271.3,"vl":270.0,"vc":270.3},
{"t":270,"o":87160,"h":87200,"l":86750,"c":86810,"m":-0.0012,"vo":270.8,"vh":271.1,"vl":269.8,"vc":270.0},
{"t":271,"o":86810,"h":86900,"l":86600,"c":86670,"m":-0.0016,"vo":270.3,"vh":271.3,"vl":270.0,"vc":271.1},
{"t":272,"o":86670,"h":86750,"l":86450,"c":86530,"m":-0.0013,"vo":270.8,"vh":271.1,"vl":269.5,"vc":269.8},
{"t":273,"o":86530,"h":86600,"l":86200,"c":86250,"m":-0.0017,"vo":270.5,"vh":270.8,"vl":269.5,"vc":269.8},
{"t":274,"o":86250,"h":86300,"l":86000,"c":86100,"m":0.0014,"vo":270.0,"vh":271.1,"vl":269.8,"vc":270.8},
{"t":275,"o":86100,"h":86200,"l":85690,"c":85900,"m":0.0031,"vo":270.5,"vh":270.8,"vl":269.2,"vc":269.5},
{"t":276,"o":85970,"h":86450,"l":85200,"c":86390,"m":0.0041,"vo":269.8,"vh":271.1,"vl":269.5,"vc":270.8},
{"t":277,"o":86390,"h":86900,"l":86300,"c":86810,"m":0.0041,"vo":270.0,"vh":271.3,"vl":269.8,"vc":271.1},
{"t":278,"o":86810,"h":87150,"l":86750,"c":87090,"m":0.0037,"vo":271.1,"vh":271.3,"vl":270.0,"vc":270.3},
{"t":279,"o":87090,"h":87850,"l":87000,"c":87790,"m":0.0030,"vo":270.8,"vh":271.1,"vl":269.2,"vc":269.5},
{"t":280,"o":87790,"h":88550,"l":87700,"c":88490,"m":0.0012,"vo":269.8,"vh":270.0,"vl":267.7,"vc":267.9},
{"t":281,"o":88350,"h":88850,"l":88300,"c":88770,"m":-0.0008,"vo":268.4,"vh":268.7,"vl":267.1,"vc":267.4},
{"t":282,"o":88770,"h":89150,"l":88700,"c":89050,"m":-0.0035,"vo":267.9,"vh":268.2,"vl":266.1,"vc":266.3},
{"t":283,"o":89050,"h":89100,"l":88750,"c":88840,"m":-0.0048,"vo":267.4,"vh":267.7,"vl":265.8,"vc":266.1},
{"t":284,"o":88840,"h":88900,"l":88550,"c":88630,"m":-0.0079,"vo":266.6,"vh":266.9,"vl":264.8,"vc":265.0},
{"t":285,"o":88630,"h":88700,"l":88280,"c":88350,"m":-0.0099,"vo":265.5,"vh":265.8,"vl":264.2,"vc":264.5},
{"t":286,"o":88490,"h":88550,"l":88150,"c":88210,"m":-0.0069,"vo":265.3,"vh":265.5,"vl":263.7,"vc":264.0},
{"t":287,"o":88280,"h":88350,"l":88000,"c":88070,"m":-0.0064,"vo":264.7,"vh":265.0,"vl":263.4,"vc":263.7},
{"t":288,"o":88210,"h":88300,"l":87850,"c":87930,"m":-0.0035,"vo":264.0,"vh":265.3,"vl":263.7,"vc":265.0},
{"t":289,"o":87930,"h":88350,"l":87880,"c":88280,"m":-0.0029,"vo":264.2,"vh":264.5,"vl":262.6,"vc":262.9},
{"t":290,"o":88280,"h":88550,"l":88200,"c":88490,"m":-0.0026,"vo":263.4,"vh":263.7,"vl":261.6,"vc":261.9},
{"t":291,"o":88490,"h":88550,"l":88200,"c":88280,"m":-0.0017,"vo":262.4,"vh":262.6,"vl":260.8,"vc":261.1},
{"t":292,"o":88350,"h":88400,"l":88000,"c":88070,"m":-0.0013,"vo":261.9,"vh":262.1,"vl":260.8,"vc":261.1},
{"t":293,"o":88070,"h":88400,"l":88000,"c":88350,"m":-0.0030,"vo":261.3,"vh":262.4,"vl":261.1,"vc":262.1},
{"t":294,"o":88210,"h":88280,"l":87700,"c":87790,"m":-0.0036,"vo":261.9,"vh":262.1,"vl":260.6,"vc":260.8},
{"t":295,"o":87860,"h":87900,"l":87450,"c":87510,"m":-0.0009,"vo":261.6,"vh":261.9,"vl":260.3,"vc":260.6},
{"t":296,"o":87510,"h":87580,"l":87150,"c":87230,"m":0.0028,"vo":261.3,"vh":261.6,"vl":260.0,"vc":260.3},
{"t":297,"o":87300,"h":87350,"l":86950,"c":87020,"m":0.0041,"vo":261.1,"vh":261.3,"vl":260.0,"vc":260.3},
{"t":298,"o":87020,"h":87500,"l":86950,"c":87440,"m":0.0043,"vo":260.6,"vh":260.8,"vl":259.2,"vc":259.5},
{"t":299,"o":87440,"h":87700,"l":87380,"c":87650,"m":0.0027,"vo":260.3,"vh":260.6,"vl":259.0,"vc":259.2},
{"t":300,"o":87650,"h":87700,"l":87250,"c":87300,"m":0.0019,"vo":259.8,"vh":260.0,"vl":258.7,"vc":259.0},
{"t":301,"o":87300,"h":87400,"l":86900,"c":86972.6,"m":-0.0001,"vo":259.2,"vh":259.5,"vl":258.3,"vc":258.575}
]},
"vconcat":[
{"width":1118,"height":290,"layer":[
{"data":{"name":"bars"},"mark":{"type":"rule","clip":true,"strokeWidth":1},"encoding":{"x":{"field":"t","type":"quantitative","scale":{"domain":[-12.66,332.66],"nice":false,"zero":false},"axis":{"labels":false,"domainColor":"#333333","title":null}},"y":{"field":"l","type":"quantitative","scale":{"domain":[75190,95490],"nice":false,"zero":false},"axis":{"orient":"right","values":[77500,80000,82500,85000,87500,90000,92500,95000],"format":".1f","title":null,"labelFont":"DejaVu Sans","labelFontSize":10}},"y2":{"field":"h"},"color":{"condition":{"test":"datum.c >= datum.o","value":"#14c414"},"value":"#ff5a00"}}},
{"data":{"name":"bars"},"mark":{"type":"bar","clip":true,"width":2.6},"encoding":{"x":{"field":"t","type":"quantitative","scale":{"domain":[-12.66,332.66],"nice":false,"zero":false}},"y":{"field":"o","type":"quantitative","scale":{"domain":[75190,95490],"nice":false,"zero":false}},"y2":{"field":"c"},"color":{"condition":{"test":"datum.c >= datum.o","value":"#14c414"},"value":"#ff5a00"}}},
{"data":{"values":[{"p":86972.6}]},"mark":{"type":"rule","color":"#ffffff","strokeDash":[1,2],"strokeWidth":1},"encoding":{"y":{"field":"p","type":"quantitative","scale":{"domain":[75190,95490],"nice":false,"zero":false}}}},
{"data":{"values":[{"t0":206.95,"v0":80090,"t1":297.76,"v1":85585}]},"mark":{"type":"rule","color":"#e8e8e8","strokeWidth":2},"encoding":{"x":{"field":"t0","type":"quantitative","scale":{"domain":[-12.66,332.66],"nice":false,"zero":false}},"x2":{"field":"t1"},"y":{"field":"v0","type":"quantitative","scale":{"domain":[75190,95490],"nice":false,"zero":false}},"y2":{"field":"v1"}}},
{"data":{"values":[{"t0":332.66,"t1":349.6,"v0":75190,"v1":75190}]},"mark":{"type":"rule","clip":false,"color":"#333333","strokeWidth":1},"encoding":{"x":{"field":"t0","type":"quantitative","scale":{"domain":[-12.66,332.66],"nice":false,"zero":false}},"x2":{"field":"t1"},"y":{"field":"v0","type":"quantitative","scale":{"domain":[75190,95490],"nice":false,"zero":false}},"y2":{"field":"v1"}}},
{"data":{"values":[{"t0":332.7,"t1":349.6,"v0":86320,"v1":87580}]},"mark":{"type":"rect","clip":false,"color":"#ffffff"},"encoding":{"x":{"field":"t0","type":"quantitative","scale":{"domain":[-12.66,332.66],"nice":false,"zero":false}},"x2":{"field":"t1"},"y":{"field":"v0","type":"quantitative","scale":{"domain":[75190,95490],"nice":false,"zero":false}},"y2":{"field":"v1"}}},
{"data":{"values":[{"tx":335.1,"v":86972.6,"label":"86972.6"}]},"mark":{"type":"text","clip":false,"align":"left","baseline":"middle","font":"DejaVu Sans","fontSize":10,"color":"#000000"},"encoding":{"x":{"field":"tx","type":"quantitative","scale":{"domain":[-12.66,332.66],"nice":false,"zero":false}},"y":{"field":"v","type":"quantitative","scale":{"domain":[75190,95490],"nice":false,"zero":false}},"text":{"field":"label"}}}
]},
{"width":1118,"height":189,"layer":[
{"data":{"name":"bars"},"mark":{"type":"bar","clip":true,"width":2.2},"encoding":{"x":{"field":"t","type":"quantitative","scale":{"domain":[-12.66,332.66],"nice":false,"zero":false},"axis":{"labels":false,"domainColor":"#333333","title":null}},"y":{"field":"m","type":"quantitative","scale":{"domain":[-0.01193,0.01277],"nice":false,"zero":false},"axis":{"orient":"right","values":[-0.01,-0.005,0.005,0.01],"format":"~g","title":null,"labelFont":"DejaVu Sans","labelFontSize":10}},"color":{"condition":{"test":"datum.m >= 0","value":"#14c414"},"value":"#ff5a00"}}},
{"data":{"values":[{"t0":204.8,"v0":0.01046,"t1":306.0,"v1":0.00654}]},"mark":{"type":"rule","color":"#d4d4d4","strokeWidth":2},"encoding":{"x":{"field":"t0","type":"quantitative","scale":{"domain":[-12.66,332.66],"nice":false,"zero":false}},"x2":{"field":"t1"},"y":{"field":"v0","type":"quantitative","scale":{"domain":[-0.01193,0.01277],"nice":false,"zero":false}},"y2":{"field":"v1"}}},
{"data":{"values":[{"t0":332.66,"t1":349.6,"v0":-0.01193,"v1":-0.01193}]},"mark":{"type":"rule","clip":false,"color":"#333333","strokeWidth":1},"encoding":{"x":{"field":"t0","type":"quantitative","scale":{"domain":[-12.66,332.66],"nice":false,"zero":false}},"x2":{"field":"t1"},"y":{"field":"v0","type":"quantitative","scale":{"domain":[-0.01193,0.01277],"nice":false,"zero":false}},"y2":{"field":"v1"}}},
{"data":{"values":[{"t0":332.7,"t1":341.0,"v0":-0.00109,"v1":0.0011}]},"mark":{"type":"rect","clip":false,"color":"#ff5a00"},"encoding":{"x":{"field":"t0","type":"quantitative","scale":{"domain":[-12.66,332.66],"nice":false,"zero":false}},"x2":{"field":"t1"},"y":{"field":"v0","type":"quantitative","scale":{"domain":[-0.01193,0.01277],"nice":false,"zero":false}},"y2":{"field":"v1"}}},
{"data":{"values":[{"tx":334.5,"v":0.0,"label":"−0"}]},"mark":{"type":"text","clip":false,"align":"left","baseline":"middle","font":"DejaVu Sans","fontSize":10,"color":"#ffffff"},"encoding":{"x":{"field":"tx","type":"quantitative","scale":{"domain":[-12.66,332.66],"nice":false,"zero":false}},"y":{"field":"v","type":"quantitative","scale":{"domain":[-0.01193,0.01277],"nice":false,"zero":false}},"text":{"field":"label"}}}
]},
{"width":1118,"height":189,"layer":[
{"data":{"name":"bars"},"mark":{"type":"rule","clip":true,"strokeWidth":1},"encoding":{"x":{"field":"t","type":"quantitative","scale":{"domain":[-12.66,332.66],"nice":false,"zero":false},"axis":{"values":[0,48,96,144,192,240,288],"labelExpr":"'' + (13 + datum.value / 24)","title":null,"labelFont":"Liberation Sans Narrow, Liberation Sans","labelFontSize":14,"labelFontWeight":"bold","labelColor":"#e0e0e0","labelPadding":7}},"y":{"field":"vl","type":"quantitative","scale":{"domain":[250.556,300.263],"nice":false,"zero":false},"axis":{"orient":"right","values":[260,270,280,290],"labelExpr":"datum.value + 'K'","title":null,"labelFont":"DejaVu Sans","labelFontSize":10}},"y2":{"field":"vh"},"color":{"condition":{"test":"datum.vc >= datum.vo","value":"#14c414"},"value":"#ff5a00"}}},
{"data":{"name":"bars"},"mark":{"type":"bar","clip":true,"width":2.6},"encoding":{"x":{"field":"t","type":"quantitative","scale":{"domain":[-12.66,332.66],"nice":false,"zero":false}},"y":{"field":"vo","type":"quantitative","scale":{"domain":[250.556,300.263],"nice":false,"zero":false}},"y2":{"field":"vc"},"color":{"condition":{"test":"datum.vc >= datum.vo","value":"#14c414"},"value":"#ff5a00"}}},
{"data":{"values":[{"t0":203.9,"v0":294.56,"t1":304.6,"v1":269.89}]},"mark":{"type":"rule","color":"#d4d4d4","strokeWidth":2},"encoding":{"x":{"field":"t0","type":"quantitative","scale":{"domain":[-12.66,332.66],"nice":false,"zero":false}},"x2":{"field":"t1"},"y":{"field":"v0","type":"quantitative","scale":{"domain":[250.556,300.263],"nice":false,"zero":false}},"y2":{"field":"v1"}}},
{"data":{"values":[{"t0":332.66,"t1":349.6,"v0":250.556,"v1":250.556},{"t0":332.66,"t1":332.66,"v0":250.556,"v1":243.4}]},"mark":{"type":"rule","clip":false,"color":"#ffffff","strokeWidth":1},"encoding":{"x":{"field":"t0","type":"quantitative","scale":{"domain":[-12.66,332.66],"nice":false,"zero":false}},"x2":{"field":"t1"},"y":{"field":"v0","type":"quantitative","scale":{"domain":[250.556,300.263],"nice":false,"zero":false}},"y2":{"field":"v1"}}},
{"data":{"values":[{"t0":332.7,"t1":349.6,"v0":255.8,"v1":260.3}]},"mark":{"type":"rect","clip":false,"color":"#14c414"},"encoding":{"x":{"field":"t0","type":"quantitative","scale":{"domain":[-12.66,332.66],"nice":false,"zero":false}},"x2":{"field":"t1"},"y":{"field":"v0","type":"quantitative","scale":{"domain":[250.556,300.263],"nice":false,"zero":false}},"y2":{"field":"v1"}}},
{"data":{"values":[{"tx":334.8,"v":258.0,"label":"258.575K"}]},"mark":{"type":"text","clip":false,"align":"left","baseline":"middle","font":"DejaVu Sans","fontSize":10,"color":"#ffffff"},"encoding":{"x":{"field":"tx","type":"quantitative","scale":{"domain":[-12.66,332.66],"nice":false,"zero":false}},"y":{"field":"v","type":"quantitative","scale":{"domain":[250.556,300.263],"nice":false,"zero":false}},"text":{"field":"label"}}}
]}
]
}
